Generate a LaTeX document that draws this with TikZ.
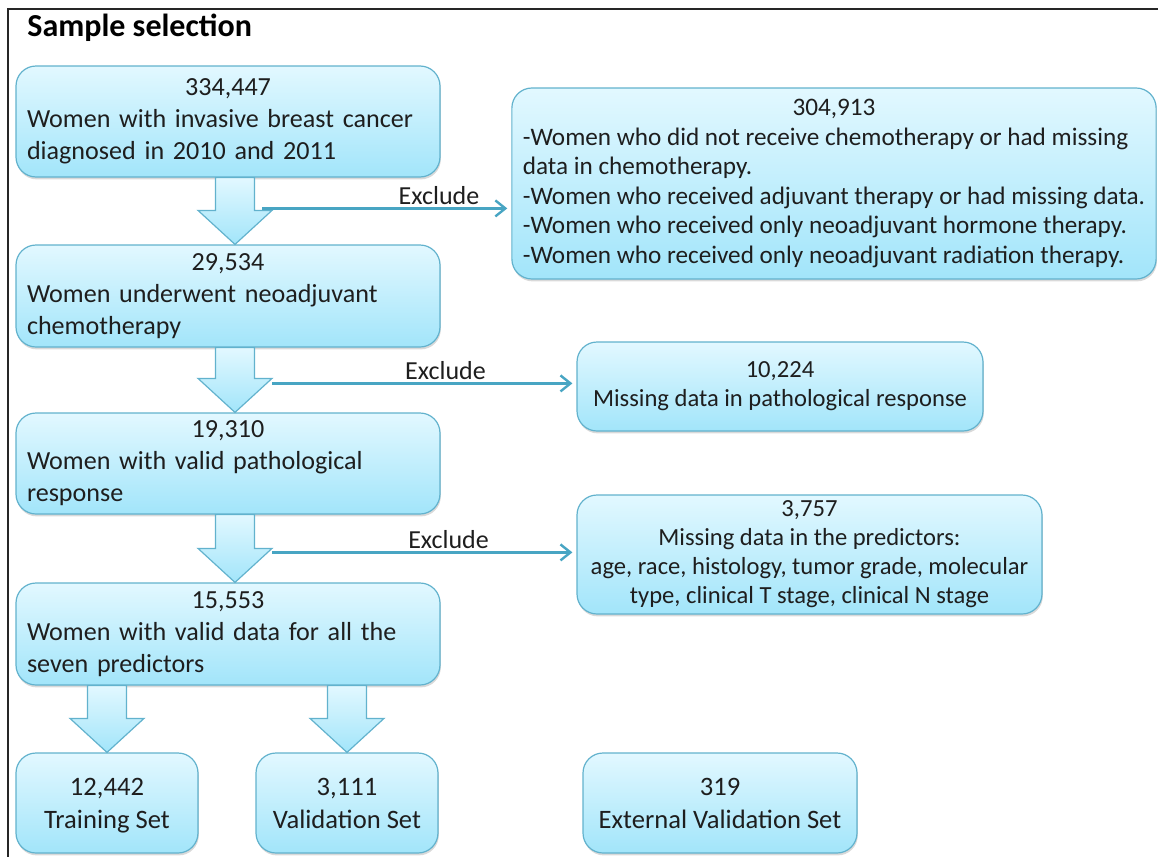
\documentclass[tikz,border=0pt]{standalone}
\usepackage{fontspec}
\setmainfont{Carlito}
\usetikzlibrary{calc,shadows,arrows.meta}

\definecolor{boxtop}{RGB}{226,248,255}
\definecolor{boxbot}{RGB}{162,229,250}
\definecolor{boxline}{RGB}{98,178,205}
\definecolor{exclline}{RGB}{72,165,195}
\definecolor{txt}{RGB}{30,30,30}

\begin{document}
\begin{tikzpicture}[x=0.5pt, y=-0.5pt,
  box/.style={draw=boxline, line width=0.6pt, rounded corners=10pt,
    top color=boxtop, bottom color=boxbot,
    drop shadow={shadow xshift=0.4pt, shadow yshift=-1.2pt, opacity=0.3},
    text=txt, inner xsep=5.5pt, inner ysep=0pt},
  stepbox/.style={box, text width=201pt, minimum height=#1,
    font=\fontsize{13.05}{16}\selectfont},
  sidebox/.style={box, minimum height=#1, font=\fontsize{12.3}{14.5}\selectfont},
  setbox/.style={box, minimum width=#1, minimum height=50pt, align=center, text depth=0pt,
    font=\fontsize{13.3}{16.5}\selectfont},
  bigarrow/.style={draw=boxline, line width=0.6pt, top color=boxtop, bottom color=boxbot},
  excl/.style={draw=exclline, line width=1.2pt, -{Straight Barb[length=5pt,width=8pt]}, shorten >=2pt},
  lbl/.style={above, inner sep=1.5pt, text=txt, font=\fontsize{13}{15}\selectfont}]

\useasboundingbox (0,0) rectangle (1158,857);
\draw[line width=1.1pt, black!85] (8,857) -- (8,9) -- (1158,9);

\node[anchor=west, inner sep=0pt, font=\fontsize{16}{19}\selectfont\bfseries] (title) at (27,28) {Sample selection};

\node[stepbox=55.5pt] (a1) at (228,121.5) {\centering 334,447\par\raggedright\noindent Women with invasive breast cancer\\diagnosed in 2010 and 2011};
\node[stepbox=51pt] (a2) at (228,296) {\centering 29,534\par\raggedright\noindent Women underwent neoadjuvant\\chemotherapy};
\node[stepbox=50.5pt] (a3) at (228,463.5) {\centering 19,310\par\raggedright\noindent Women with valid pathological\\response};
\node[stepbox=51pt] (a4) at (228,634) {\centering 15,553\par\raggedright\noindent Women with valid data for all the\\seven predictors};

\node[sidebox=95.5pt, minimum width=321pt, font=\fontsize{12.6}{14.8}\selectfont] (r1) at (834,183.5) {\begin{tabular}{@{}l@{}}
  \multicolumn{1}{@{}c@{}}{304,913}\\
  -Women who did not receive chemotherapy or had missing\\
  data in chemotherapy.\\
  -Women who received adjuvant therapy or had missing data.\\
  -Women who received only neoadjuvant hormone therapy.\\
  -Women who received only neoadjuvant radiation therapy.
\end{tabular}};
\node[sidebox=44.5pt, minimum width=203pt, align=center] (r2) at (780,386.5) {10,224\\Missing data in pathological response};
\node[sidebox=59.5pt, minimum width=232.5pt, align=center] (r3) at (809.5,554.5) {3,757\\Missing data in the predictors:\\age, race, histology, tumor grade, molecular\\type, clinical T stage, clinical N stage};

\node[setbox=91pt] (t1) at (107,803) {12,442\\Training Set};
\node[setbox=91pt] (v1) at (347,803) {3,111\\Validation Set};
\node[setbox=137pt] (e1) at (720,803) {319\\External Validation Set};

\foreach \s/\t/\dx in {a1/a2/7, a2/a3/7, a3/a4/7, a4/t1/0, a4/v1/0}
  \draw[bigarrow] let \p1=($(\s.south -| \t.north)+(\dx,0)$), \p2=($(\t.north)+(\dx,0)$) in
    (\x1-9.75pt,\y1) -- (\x1-9.75pt,\y2+17pt) -- (\x1-18.5pt,\y2+17pt) -- (\x1,\y2)
    -- (\x1+18.5pt,\y2+17pt) -- (\x1+9.75pt,\y2+17pt) -- (\x1+9.75pt,\y1) -- cycle;

\coordinate (x1) at ($(a2.north)+(34,-36)$);
\coordinate (x2) at ($(a3.north)+(44,-29)$);
\coordinate (x3) at ($(a4.north)+(44,-30)$);
\draw[excl] (x1) -- (x1 -| r1.west) node[lbl, pos=0.71] {Exclude};
\draw[excl] (x2) -- (x2 -| r2.west) node[lbl, pos=0.57] {Exclude};
\draw[excl] (x3) -- (x3 -| r3.west) node[lbl, pos=0.58] {Exclude};

\end{tikzpicture}
\end{document}
